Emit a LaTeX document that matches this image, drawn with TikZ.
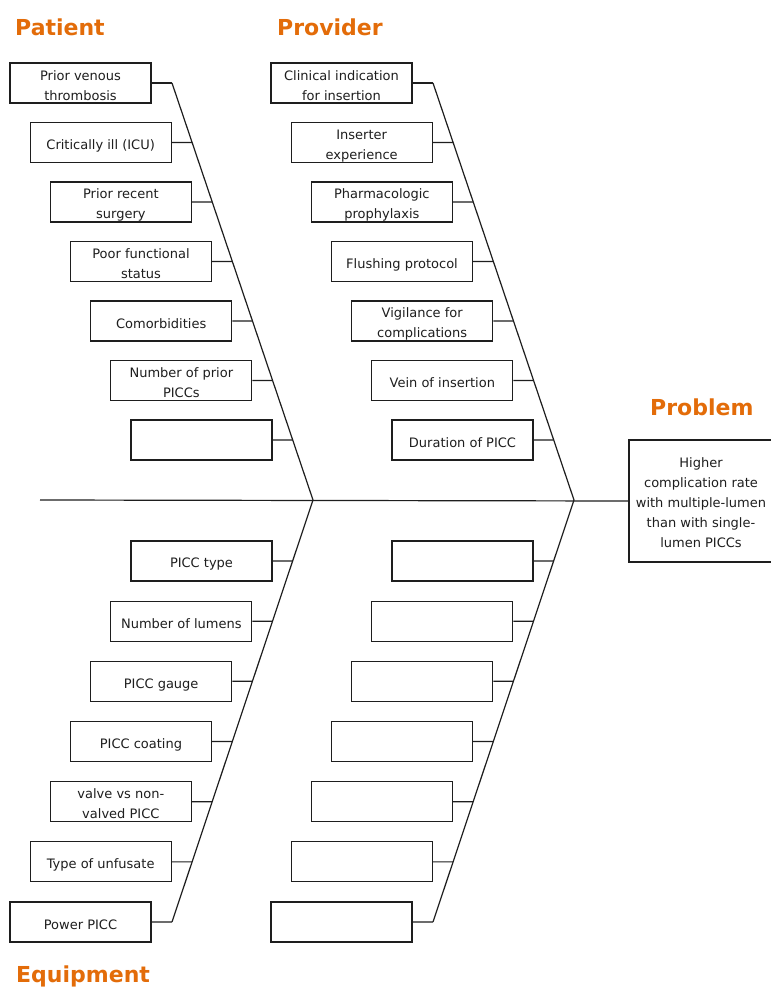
\documentclass[tikz,border=0pt]{standalone}
\usepackage{fontspec}
\setmainfont{DejaVu Sans}
\usetikzlibrary{calc}
\definecolor{hdr}{RGB}{227,108,9}
\definecolor{ink}{RGB}{30,30,30}
\begin{document}
\begin{tikzpicture}[x=1pt,y=-1pt,
  cause/.style={draw=ink,line width=1.2pt,minimum width=141pt,minimum height=40pt,inner sep=0pt,align=center,text=ink,font=\fontsize{13}{20}\selectfont},
  bone/.style={draw=ink,line width=1.2pt},
  hdrtext/.style={anchor=base west,inner sep=0pt,text=hdr,font=\fontsize{22}{24}\selectfont\bfseries}]
\fill[white] (0,0) rectangle (771,999);
\useasboundingbox (0,0) rectangle (771,999);
% headers
\node[hdrtext] (hPat) at (15,35) {Patient};
\node[hdrtext] (hPro) at (277,35) {Provider};
\node[hdrtext] (hPrb) at (650,415) {Problem};
\node[hdrtext] (hEqu) at (16,982) {Equipment};
% key points
\coordinate (tail) at (40,500);
\coordinate (jL) at (313,500);
\coordinate (jR) at (574,500);
\coordinate (lTop) at (172,83);
\coordinate (lBot) at (172,922);
\coordinate (rTop) at (433,83);
\coordinate (rBot) at (433,922);
% problem
\node[draw=ink,line width=1.2pt,minimum width=144pt,minimum height=122pt,inner sep=0pt,align=center,text=ink,font=\fontsize{13}{20}\selectfont] (prob) at (701,501)
  {\vrule height19pt depth0pt width0pt Higher\\complication rate\\with multiple-lumen\\than with single-\\lumen PICCs\vrule height0pt depth6pt width0pt};
% spine and bones
\draw[bone] (tail) -- (prob.west);
\draw[bone] (lTop) -- (jL) -- (lBot);
\draw[bone] (rTop) -- (jR) -- (rBot);
% patient
\foreach \i/\t in {0/{Prior venous\\thrombosis},1/{Critically ill (ICU)},2/{Prior recent\\surgery},3/{Poor functional\\status},4/{Comorbidities},5/{Number of prior\\PICCs},6/{}}{
  \node[cause] (pa\i) at ({80.5+20.17*\i},{83+59.5*\i}) {\vrule height16.5pt depth0pt width0pt\t\vrule height0pt depth2pt width0pt};
  \coordinate (pad\i) at ($(lTop)!{\i*59.5/417}!(jL)$);
  \draw[bone] (pa\i.east) -- (pad\i);
}
% provider
\foreach \i/\t in {0/{Clinical indication\\for insertion},1/{Inserter\\experience},2/{Pharmacologic\\prophylaxis},3/{Flushing protocol},4/{Vigilance for\\complications},5/{Vein of insertion},6/{Duration of PICC}}{
  \node[cause] (pr\i) at ({341.5+20.17*\i},{83+59.5*\i}) {\vrule height16.5pt depth0pt width0pt\t\vrule height0pt depth2pt width0pt};
  \coordinate (prd\i) at ($(rTop)!{\i*59.5/417}!(jR)$);
  \draw[bone] (pr\i.east) -- (prd\i);
}
% equipment
\foreach \i/\t in {0/{PICC type},1/{Number of lumens},2/{PICC gauge},3/{PICC coating},4/{valve vs non-\\valved PICC},5/{Type of unfusate},6/{Power PICC}}{
  \node[cause] (eq\i) at ({201.5-20.17*\i},{561+60.17*\i}) {\vrule height16.5pt depth0pt width0pt\t\vrule height0pt depth2pt width0pt};
  \coordinate (eqd\i) at ($(jL)!{(61+60.17*\i)/422}!(lBot)$);
  \draw[bone] (eq\i.east) -- (eqd\i);
}
% lower right (empty)
\foreach \i in {0,...,6}{
  \node[cause] (lr\i) at ({462.5-20.17*\i},{561+60.17*\i}) {};
  \coordinate (lrd\i) at ($(jR)!{(61+60.17*\i)/422}!(rBot)$);
  \draw[bone] (lr\i.east) -- (lrd\i);
}
\end{tikzpicture}
\end{document}
